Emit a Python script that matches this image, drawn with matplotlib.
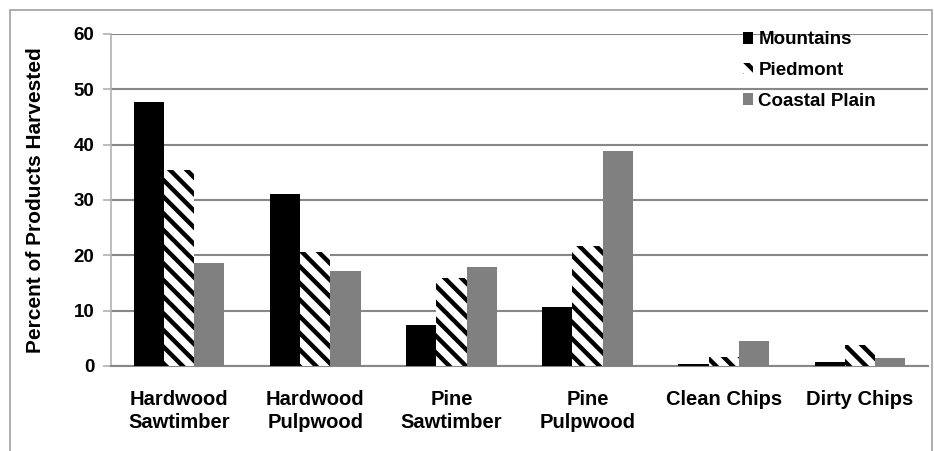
import matplotlib
matplotlib.use("Agg")
import matplotlib.pyplot as plt
import numpy as np
from matplotlib.patches import Rectangle

plt.rcParams['font.family'] = ['Liberation Sans', 'DejaVu Sans']
plt.rcParams['font.weight'] = 'bold'
plt.rcParams['hatch.linewidth'] = 3.2
plt.rcParams['hatch.color'] = 'black'

categories = ["Hardwood\nSawtimber", "Hardwood\nPulpwood", "Pine\nSawtimber",
              "Pine\nPulpwood", "Clean Chips", "Dirty Chips"]
series_names = ["Mountains", "Piedmont", "Coastal Plain"]
mountains = [47.8, 31.0, 7.5, 10.6, 0.4, 0.7]
piedmont = [35.5, 20.6, 15.9, 21.6, 1.6, 3.8]
coastal = [18.6, 17.2, 17.9, 38.9, 4.5, 1.45]
yticks = [0, 10, 20, 30, 40, 50, 60]

fig = plt.figure(figsize=(9.34, 4.51), dpi=100)
ax = fig.add_axes([111/934, 1-366/451, (928-111)/934, (366-34)/451])

x = np.arange(len(categories))
w = 0.222
grid_c = '#878787'
ax.bar(x - w, mountains, w, color='black', edgecolor='black', linewidth=0, zorder=3, label=series_names[0])
ax.bar(x, piedmont, w, color='white', edgecolor='black', linewidth=0, hatch='\\\\', zorder=3, label=series_names[1])
ax.bar(x + w, coastal, w, color='#808080', edgecolor='#808080', linewidth=0, zorder=3, label=series_names[2])

ax.set_xlim(-0.5, len(categories) - 0.5)
ax.set_ylim(0, 60)
ax.set_yticks(yticks)
ax.yaxis.grid(True, color=grid_c, linewidth=1.5, zorder=0)
ax.set_axisbelow(True)
for s in ['top', 'right']:
    ax.spines[s].set_visible(False)
ax.spines['left'].set_color('#b0b0b0')
ax.spines['left'].set_linewidth(1.2)
ax.spines['bottom'].set_color(grid_c)
ax.spines['bottom'].set_linewidth(1.5)
ax.tick_params(axis='y', direction='out', length=6, color='#b0b0b0', width=1.2,
               labelsize=13.5, pad=6)
ax.tick_params(axis='x', length=0, labelsize=14.5, pad=17)
ax.set_xticks(x)
ax.set_xticklabels(categories, fontweight='bold', linespacing=1.3)
for t in ax.get_yticklabels():
    t.set_fontweight('bold')
ax.set_ylabel("Percent of Products Harvested", fontsize=15, fontweight='bold')
ax.yaxis.set_label_coords(-(111-45)/817, 0.5)

leg = ax.legend(loc='upper left', bbox_to_anchor=((735-111)/817, 1.0 + 10/332), frameon=False,
                fontsize=13.5, handlelength=0.55, handleheight=0.55, handletextpad=0.3,
                labelspacing=0.72, borderaxespad=0.0)
for t in leg.get_texts():
    t.set_fontweight('bold')

fig.patches.append(Rectangle((10/934, -0.01), (932-10)/934, (451-10)/451 + 0.01,
                             transform=fig.transFigure, fill=False,
                             edgecolor='#a0a0a0', linewidth=1.2))

fig.savefig("out.png", dpi=100)
